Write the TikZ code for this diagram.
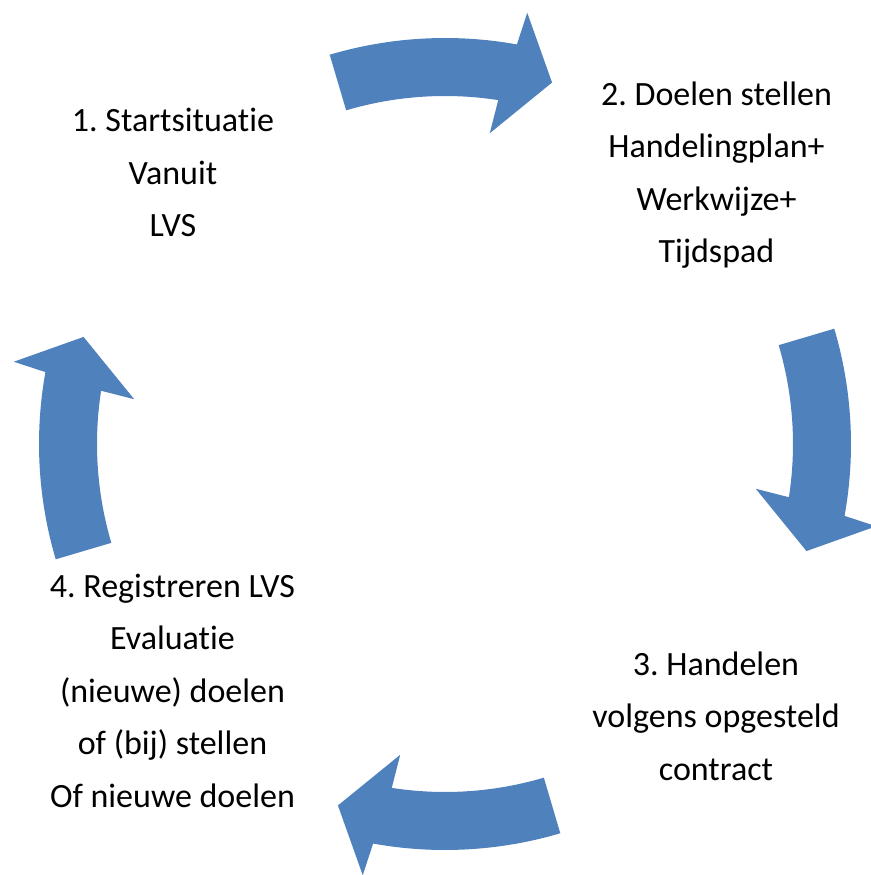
\documentclass[tikz,border=0pt]{standalone}
\usepackage{fontspec}
\setmainfont{Carlito}[Ligatures=NoCommon]
\frenchspacing
\definecolor{cycblue}{RGB}{79,129,189}
\tikzset{
  cyc/.style={fill=cycblue},
  step label/.style={align=center, anchor=base, inner sep=0pt,
    font=\fontsize{34}{52.5}\selectfont}
}
\begin{document}
\begin{tikzpicture}[x=1pt, y=1pt]
        \useasboundingbox (-445,-431) rectangle (425,444);

        \fill[cyc] (106.5:406) arc[start angle=106.5, end angle=79.8, radius=406] -- (79.2:439) -- (73.5:377) -- (81.8:314) -- (81.2:348) arc[start angle=81.2, end angle=106.5, radius=348] -- cycle;
        \fill[cyc] (16.5:406) arc[start angle=16.5, end angle=-10.2, radius=406] -- (-10.8:439) -- (-16.5:377) -- (-8.2:314) -- (-8.8:348) arc[start angle=-8.8, end angle=16.5, radius=348] -- cycle;
        \fill[cyc] (-73.5:406) arc[start angle=-73.5, end angle=-100.2, radius=406] -- (-100.8:439) -- (-106.5:377) -- (-98.2:314) -- (-98.8:348) arc[start angle=-98.8, end angle=-73.5, radius=348] -- cycle;
        \fill[cyc] (196.5:406) arc[start angle=196.5, end angle=169.8, radius=406] -- (169.2:439) -- (163.5:377) -- (171.8:314) -- (171.2:348) arc[start angle=171.2, end angle=196.5, radius=348] -- cycle;

        \node[step label] (start) at (-272, 207.3) {1. Startsituatie\\Vanuit\\LVS};
        \node[step label] (goals) at (271.5, 181.3) {2. Doelen stellen\\Handelingplan+\\Werkwijze+\\Tijdspad};
        \node[step label] (act) at (271, -336) {3. Handelen\\volgens opgesteld\\contract};
        \node[step label] (eval) at (-272.5, -363.3) {4. Registreren LVS\\Evaluatie\\(nieuwe) doelen\\of (bij) stellen\\Of nieuwe doelen};
      \end{tikzpicture}
\end{document}
